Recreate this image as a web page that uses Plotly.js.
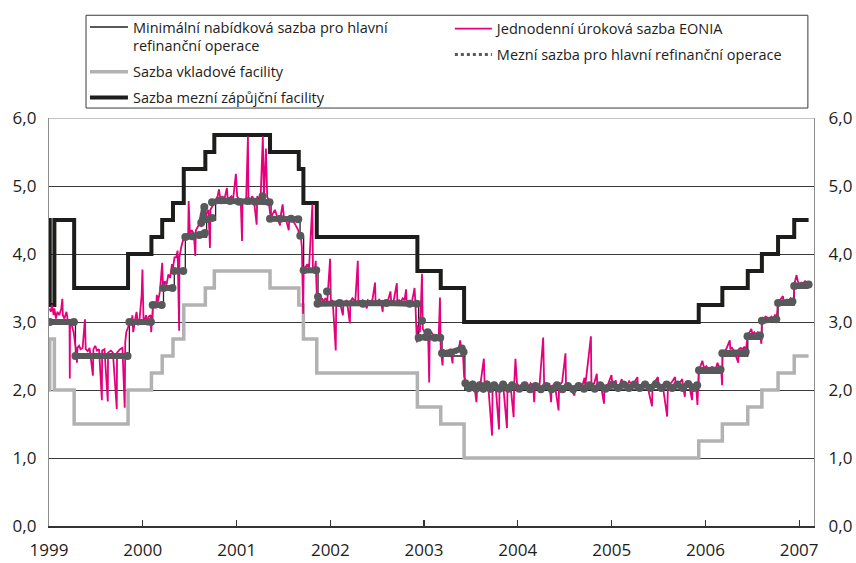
<!DOCTYPE html>
<html>
<head>
<meta charset="utf-8">
<script src="https://cdn.plot.ly/plotly-3.0.1.min.js"></script>
<style>html,body{margin:0;padding:0;background:#fff;}#chart{width:856px;height:563px;}</style>
</head>
<body>
<div id="chart"></div>
<script>
// Series names (legend labels)
const nameMinBid = "Minimální nabídková sazba pro hlavní<br>refinanční operace";
const nameDeposit = "Sazba vkladové facility";
const nameLending = "Sazba mezní zápůjční facility";
const nameEonia = "Jednodenní úroková sazba EONIA";
const nameMarginal = "Mezní sazba pro hlavní refinanční operace";

// Year ticks
const yearTicks = ["1999-01-01","2000-01-01","2001-01-01","2002-01-01","2003-01-01","2004-01-01","2005-01-01","2006-01-01","2007-01-01"];
const yearLabels = ["1999","2000","2001","2002","2003","2004","2005","2006","2007"];
const rateTicks = [0,1,2,3,4,5,6];

// Minimum bid rate for main refinancing operations (step changes)
const minBidDates = ["1999-01-01","1999-04-14","1999-11-10","2000-02-09","2000-03-22","2000-05-03","2000-06-15","2000-09-06","2000-10-11","2001-05-15","2001-09-05","2001-09-19","2001-11-14","2002-12-11","2003-03-12","2003-06-09","2005-12-06","2006-03-08","2006-06-15","2006-08-09","2006-10-11","2006-12-13","2007-02-07"];
const minBidValues = [3.0,2.5,3.0,3.25,3.5,3.75,4.25,4.5,4.75,4.5,4.25,3.75,3.25,2.75,2.5,2.0,2.25,2.5,2.75,3.0,3.25,3.5,3.5];

// Deposit facility rate
const depositDates = ["1999-01-01","1999-01-04","1999-01-22","1999-04-09","1999-11-05","2000-02-04","2000-03-17","2000-04-28","2000-06-09","2000-09-01","2000-10-06","2001-05-11","2001-08-31","2001-09-18","2001-11-09","2002-12-06","2003-03-07","2003-06-06","2005-12-06","2006-03-08","2006-06-15","2006-08-09","2006-10-11","2006-12-13","2007-02-07"];
const depositValues = [2.0,2.75,2.0,1.5,2.0,2.25,2.5,2.75,3.25,3.5,3.75,3.5,3.25,2.75,2.25,1.75,1.5,1.0,1.25,1.5,1.75,2.0,2.25,2.5,2.5];

// Marginal lending facility rate
const lendingDates = depositDates;
const lendingValues = [4.5,3.25,4.5,3.5,4.0,4.25,4.5,4.75,5.25,5.5,5.75,5.5,5.25,4.75,4.25,3.75,3.5,3.0,3.25,3.5,3.75,4.0,4.25,4.5,4.5];

// Marginal rate for main refinancing operations (segments separated by null)
const marginalDates = [
 "1999-01-04","1999-04-08",null,
 "1999-04-14","1999-11-03",null,
 "1999-11-10","2000-02-02",null,
 "2000-02-09","2000-03-15",null,
 "2000-03-22","2000-04-26",null,
 "2000-05-03","2000-06-07",null,
 "2000-06-15","2000-07-12","2000-08-09","2000-08-30",null,
 "2000-08-16","2000-08-28",null,
 "2000-09-04","2000-09-27",null,
 "2000-09-27","2000-11-01","2000-12-06","2001-01-10","2001-02-14","2001-03-14","2001-05-09",null,
 "2001-04-12",null,
 "2001-05-11","2001-06-20","2001-08-01","2001-08-29",null,
 "2001-09-06",null,
 "2001-09-19","2001-11-07",null,
 "2001-11-14",null,
 "2001-12-19",null,
 "2001-11-12","2002-02-06","2002-05-08","2002-08-07","2002-11-06","2002-12-04",null,
 "2002-12-24",null,
 "2002-12-11","2003-01-08","2003-02-12","2003-03-05",null,
 "2003-01-15",null,
 "2003-03-12","2003-04-16","2003-05-28","2003-06-04",null,
 "2003-06-11","2003-06-25","2003-07-09","2003-07-23","2003-08-06","2003-08-20","2003-09-03","2003-09-17","2003-10-01","2003-10-22",
 "2003-11-05","2003-11-26","2003-12-10","2004-01-07","2004-01-28","2004-02-18","2004-03-10","2004-03-31","2004-04-21","2004-05-12",
 "2004-06-02","2004-06-23","2004-07-14","2004-08-04","2004-08-25","2004-09-15","2004-10-06","2004-10-27","2004-11-17","2004-12-08",
 "2005-01-05","2005-01-26","2005-02-16","2005-03-09","2005-03-30","2005-04-20","2005-05-11","2005-06-01","2005-06-22","2005-07-13",
 "2005-08-03","2005-08-24","2005-09-14","2005-10-05","2005-10-26","2005-11-16","2005-11-30",null,
 "2005-12-07","2006-03-01",null,
 "2006-03-08","2006-06-07",null,
 "2006-06-14","2006-08-02",null,
 "2006-08-09","2006-10-04",null,
 "2006-10-11","2006-12-06",null,
 "2006-12-13","2007-02-07"
];
const marginalValues = [
 3.0,3.0,null,
 2.5,2.5,null,
 3.0,3.0,null,
 3.25,3.25,null,
 3.5,3.5,null,
 3.75,3.75,null,
 4.25,4.26,4.28,4.31,null,
 4.46,4.69,null,
 4.51,4.53,null,
 4.76,4.79,4.78,4.77,4.78,4.77,4.76,null,
 4.85,null,
 4.52,4.52,4.52,4.51,null,
 4.27,null,
 3.76,3.76,null,
 3.37,null,
 3.45,null,
 3.27,3.28,3.27,3.28,3.27,3.27,null,
 3.02,null,
 2.77,2.78,2.77,2.77,null,
 2.85,null,
 2.54,2.55,2.61,2.56,null,
 2.10,2.03,2.08,2.02,2.07,2.02,2.08,2.02,2.07,2.02,
 2.08,2.02,2.07,2.02,2.07,2.01,2.06,2.01,2.06,2.01,
 2.07,2.01,2.06,2.01,2.06,2.02,2.07,2.02,2.07,2.02,
 2.08,2.03,2.08,2.03,2.08,2.03,2.08,2.03,2.09,2.03,
 2.08,2.03,2.08,2.03,2.09,2.03,2.07,null,
 2.29,2.30,null,
 2.54,2.56,null,
 2.79,2.80,null,
 3.02,3.04,null,
 3.28,3.30,null,
 3.53,3.55
];

// EONIA overnight rate (date, %)
const eonia = [
 ["1999-01-04",3.20],["1999-01-08",3.15],["1999-01-13",3.25],["1999-01-19",3.10],["1999-01-22",3.20],["1999-01-28",3.05],
 ["1999-02-03",3.15],["1999-02-10",3.10],["1999-02-18",3.20],["1999-02-22",3.34],["1999-02-24",3.10],["1999-03-02",3.05],
 ["1999-03-10",3.15],["1999-03-16",3.00],["1999-03-22",2.95],["1999-03-23",2.17],["1999-03-24",3.00],["1999-03-31",2.95],
 ["1999-04-07",2.85],["1999-04-12",2.70],["1999-04-16",2.60],["1999-04-20",2.40],["1999-04-22",2.62],["1999-04-28",2.65],
 ["1999-05-04",2.60],["1999-05-12",2.62],["1999-05-21",3.04],["1999-05-24",2.60],["1999-06-01",2.57],["1999-06-08",2.62],
 ["1999-06-21",2.21],["1999-06-23",2.60],["1999-06-30",2.65],["1999-07-07",2.58],["1999-07-15",2.60],["1999-07-26",1.85],
 ["1999-07-27",2.58],["1999-08-05",2.60],["1999-08-18",1.83],["1999-08-19",2.55],["1999-08-30",2.58],["1999-09-07",2.55],
 ["1999-09-22",1.72],["1999-09-23",2.55],["1999-10-05",2.60],["1999-10-14",2.62],["1999-10-23",1.74],["1999-10-25",2.70],
 ["1999-10-29",2.85],["1999-11-03",2.90],["1999-11-08",2.95],["1999-11-12",3.05],["1999-11-17",2.95],["1999-11-22",3.10],
 ["1999-11-25",2.85],["1999-12-01",3.00],["1999-12-08",3.15],["1999-12-14",2.95],["1999-12-20",3.05],["1999-12-28",3.40],
 ["1999-12-31",3.77],
 ["2000-01-04",3.05],["2000-01-07",3.00],["2000-01-14",3.10],["2000-01-19",2.95],["2000-01-24",3.08],["2000-02-01",3.10],
 ["2000-02-03",2.85],["2000-02-10",3.25],["2000-02-16",3.30],["2000-02-22",3.20],["2000-02-25",3.40],["2000-03-01",3.30],
 ["2000-03-08",3.45],["2000-03-17",3.87],["2000-03-20",3.50],["2000-03-27",3.60],["2000-04-03",3.55],["2000-04-10",3.70],
 ["2000-04-17",3.65],["2000-04-24",3.85],["2000-04-28",3.80],["2000-05-04",3.95],["2000-05-10",3.95],["2000-05-16",4.05],
 ["2000-05-22",2.87],["2000-05-23",3.95],["2000-05-30",4.10],["2000-06-06",4.20],["2000-06-13",4.25],["2000-06-20",4.30],
 ["2000-06-26",4.25],["2000-06-28",4.78],["2000-07-03",4.30],["2000-07-10",4.35],["2000-07-18",4.30],["2000-07-24",3.97],
 ["2000-07-26",4.35],["2000-08-02",4.40],["2000-08-10",4.45],["2000-08-17",4.40],["2000-08-23",4.52],["2000-08-30",4.50],
 ["2000-09-06",4.60],["2000-09-13",4.65],["2000-09-19",4.09],["2000-09-21",4.65],["2000-09-28",4.70],["2000-10-05",4.75],
 ["2000-10-12",4.80],["2000-10-19",4.85],["2000-10-24",4.95],["2000-10-30",4.80],["2000-11-07",4.85],["2000-11-14",4.80],
 ["2000-11-24",4.97],["2000-11-27",4.82],["2000-12-04",4.82],["2000-12-11",4.85],["2000-12-18",4.80],["2000-12-29",5.18],
 ["2001-01-03",4.85],["2001-01-10",4.80],["2001-01-17",4.78],["2001-01-22",4.19],["2001-01-24",4.80],["2001-01-31",4.75],
 ["2001-02-07",4.80],["2001-02-14",5.73],["2001-02-16",4.80],["2001-02-23",4.78],["2001-03-02",4.85],["2001-03-09",4.80],
 ["2001-03-20",4.43],["2001-03-22",4.85],["2001-03-29",4.80],["2001-04-05",4.90],["2001-04-13",5.73],["2001-04-17",4.80],
 ["2001-04-25",5.55],["2001-04-30",4.85],["2001-05-07",4.75],["2001-05-11",4.60],["2001-05-16",4.55],["2001-05-23",4.60],
 ["2001-05-30",4.65],["2001-06-19",4.42],["2001-06-21",4.55],["2001-06-29",4.73],["2001-07-04",4.55],["2001-07-11",4.52],
 ["2001-07-23",4.35],["2001-07-25",4.55],["2001-08-01",4.50],["2001-08-08",4.48],["2001-08-15",4.45],["2001-08-22",4.40],
 ["2001-08-29",4.35],["2001-09-03",4.25],["2001-09-07",4.30],["2001-09-12",4.10],["2001-09-17",3.12],["2001-09-19",3.75],
 ["2001-09-26",3.80],["2001-10-03",3.85],["2001-10-10",3.80],["2001-10-23",4.73],["2001-10-25",3.80],["2001-11-01",3.75],
 ["2001-11-05",3.90],["2001-11-07",3.70],["2001-11-09",3.40],["2001-11-15",3.35],["2001-11-22",3.30],["2001-11-29",3.35],
 ["2001-12-06",3.30],["2001-12-13",3.35],["2001-12-20",3.30],["2001-12-31",3.93],
 ["2002-01-03",3.30],["2002-01-10",3.32],["2002-01-22",2.58],["2002-01-24",3.30],["2002-02-05",3.32],["2002-02-19",3.10],
 ["2002-02-21",3.28],["2002-03-06",3.32],["2002-03-18",2.98],["2002-03-20",3.30],["2002-03-28",3.35],["2002-04-08",3.30],
 ["2002-04-18",3.90],["2002-04-20",3.32],["2002-04-29",3.30],["2002-05-07",3.32],["2002-05-15",3.28],["2002-05-23",3.20],
 ["2002-05-27",3.32],["2002-06-05",3.30],["2002-06-14",3.33],["2002-06-24",3.58],["2002-06-26",3.32],["2002-07-03",3.30],
 ["2002-07-10",3.33],["2002-07-17",3.30],["2002-07-24",3.15],["2002-07-26",3.31],["2002-08-05",3.30],["2002-08-14",3.32],
 ["2002-08-23",3.45],["2002-08-26",3.30],["2002-09-05",3.32],["2002-09-17",3.57],["2002-09-19",3.30],["2002-09-26",3.32],
 ["2002-10-03",3.30],["2002-10-10",3.35],["2002-10-17",3.32],["2002-10-23",3.48],["2002-10-25",3.30],["2002-11-01",3.30],
 ["2002-11-08",3.28],["2002-11-15",3.30],["2002-11-25",3.50],["2002-11-28",3.30],["2002-12-04",2.70],["2002-12-06",2.95],
 ["2002-12-10",2.90],["2002-12-16",2.85],["2002-12-24",3.71],["2002-12-27",2.90],
 ["2003-01-03",2.85],["2003-01-10",2.85],["2003-01-17",2.80],["2003-01-21",2.11],["2003-01-23",2.82],["2003-01-30",2.85],
 ["2003-02-06",2.80],["2003-02-13",2.78],["2003-02-20",2.80],["2003-02-27",2.78],["2003-03-04",3.36],["2003-03-07",2.60],
 ["2003-03-14",2.36],["2003-03-17",2.60],["2003-03-24",2.55],["2003-03-31",2.58],["2003-04-07",2.55],["2003-04-14",2.60],
 ["2003-04-22",2.39],["2003-04-24",2.58],["2003-05-01",2.60],["2003-05-08",2.55],["2003-05-15",2.58],["2003-05-22",2.73],
 ["2003-05-26",2.55],["2003-06-02",2.50],["2003-06-06",2.20],["2003-06-09",2.15],["2003-06-16",2.12],["2003-06-23",2.10],
 ["2003-07-03",2.08],["2003-07-14",2.12],["2003-07-24",1.82],["2003-07-28",2.10],["2003-08-08",2.07],["2003-08-22",2.46],
 ["2003-08-25",2.08],["2003-09-08",2.06],["2003-09-23",1.33],["2003-09-25",2.05],["2003-10-06",2.10],["2003-10-20",1.42],
 ["2003-10-22",2.05],["2003-11-05",2.08],["2003-11-20",1.44],["2003-11-22",2.05],["2003-12-03",2.10],["2003-12-16",1.60],
 ["2003-12-18",2.07],["2003-12-23",2.46],["2003-12-29",2.10],
 ["2004-01-06",2.05],["2004-01-14",2.03],["2004-01-22",2.05],["2004-02-02",2.07],["2004-02-11",2.03],["2004-02-20",2.10],
 ["2004-03-01",2.06],["2004-03-05",1.82],["2004-03-08",2.05],["2004-03-17",2.03],["2004-03-26",2.08],["2004-04-09",2.77],
 ["2004-04-13",2.04],["2004-04-22",2.05],["2004-05-03",2.10],["2004-05-10",1.82],["2004-05-12",2.05],["2004-05-24",2.09],
 ["2004-06-08",1.70],["2004-06-10",2.06],["2004-06-22",2.12],["2004-07-05",2.54],["2004-07-07",2.06],["2004-07-20",2.04],
 ["2004-08-09",1.92],["2004-08-11",2.05],["2004-08-25",2.07],["2004-09-08",2.05],["2004-09-17",2.18],["2004-09-20",2.06],
 ["2004-10-12",2.79],["2004-10-14",2.07],["2004-10-25",2.10],["2004-11-04",2.24],["2004-11-06",2.06],["2004-11-19",2.09],
 ["2004-12-02",1.80],["2004-12-04",2.06],["2004-12-17",2.08],["2004-12-31",2.22],
 ["2005-01-04",2.07],["2005-01-17",2.14],["2005-01-19",2.08],["2005-02-01",2.07],["2005-02-09",2.16],["2005-02-15",2.06],
 ["2005-03-01",2.07],["2005-03-10",2.13],["2005-03-22",2.06],["2005-04-11",2.19],["2005-04-13",2.07],["2005-04-27",2.08],
 ["2005-05-10",2.12],["2005-05-20",2.06],["2005-06-07",1.76],["2005-06-09",2.07],["2005-06-30",2.19],["2005-07-02",2.07],
 ["2005-07-19",2.06],["2005-08-05",1.61],["2005-08-08",2.06],["2005-08-22",2.11],["2005-09-05",2.19],["2005-09-07",2.07],
 ["2005-09-20",2.09],["2005-10-03",2.16],["2005-10-05",2.07],["2005-10-13",1.90],["2005-10-15",2.06],["2005-10-28",2.10],
 ["2005-11-10",1.85],["2005-11-12",2.07],["2005-11-25",2.10],["2005-12-01",1.78],["2005-12-06",2.30],["2005-12-13",2.35],
 ["2005-12-20",2.43],["2005-12-27",2.32],
 ["2006-01-05",2.35],["2006-01-12",2.30],["2006-01-20",2.32],["2006-01-27",2.34],["2006-02-03",2.32],["2006-02-10",2.30],
 ["2006-02-17",2.40],["2006-02-24",2.33],["2006-03-03",2.33],["2006-03-07",2.07],["2006-03-09",2.55],["2006-03-16",2.58],
 ["2006-03-23",2.60],["2006-04-06",2.73],["2006-04-08",2.60],["2006-04-15",2.62],["2006-04-22",2.58],["2006-05-09",2.40],
 ["2006-05-11",2.60],["2006-05-18",2.62],["2006-05-25",2.60],["2006-06-01",2.63],["2006-06-08",2.60],["2006-06-15",2.80],
 ["2006-06-22",2.85],["2006-06-29",2.90],["2006-07-03",2.82],["2006-07-10",2.85],["2006-07-17",2.82],["2006-07-24",2.85],
 ["2006-08-01",2.83],["2006-08-07",2.68],["2006-08-09",3.05],["2006-08-16",3.05],["2006-08-23",3.08],["2006-09-01",3.06],
 ["2006-09-08",3.05],["2006-09-15",3.08],["2006-09-22",3.05],["2006-09-29",3.10],["2006-10-06",3.08],["2006-10-11",3.30],
 ["2006-10-18",3.32],["2006-10-30",3.38],["2006-11-01",3.32],["2006-11-08",3.30],["2006-11-15",3.33],["2006-11-22",3.32],
 ["2006-11-29",3.35],["2006-12-06",3.30],["2006-12-11",3.28],["2006-12-13",3.55],["2006-12-22",3.69],["2006-12-27",3.60],
 ["2007-01-03",3.55],["2007-01-10",3.58],["2007-01-17",3.57],["2007-01-24",3.60],["2007-01-31",3.58],["2007-02-07",3.57]
];

const magenta = "#e5007d";
const darkGray = "#58595b";
const lightGray = "#b2b2b2";
const black = "#1d1d1b";
const legendFont = {family: "'Open Sans', 'Noto Sans', sans-serif", size: 14.5, color: "#1d1d1b"};
const tickFont = {family: "'Open Sans', 'Noto Sans', sans-serif", size: 17, color: "#1d1d1b"};

const traces = [
  {x: depositDates, y: depositValues, name: nameDeposit, type: "scatter", mode: "lines",
   line: {color: lightGray, width: 3.5, shape: "hv"}, legend: "legend", legendgroup: "g2", legendrank: 2},
  {x: lendingDates, y: lendingValues, name: nameLending, type: "scatter", mode: "lines",
   line: {color: black, width: 4, shape: "hv"}, legend: "legend", legendgroup: "g3", legendrank: 3},
  {x: minBidDates, y: minBidValues, name: nameMinBid, type: "scatter", mode: "lines",
   line: {color: "#222222", width: 1.3, shape: "hv"}, legend: "legend", legendgroup: "g1", legendrank: 1},
  {x: eonia.map(d => d[0]), y: eonia.map(d => d[1]), name: nameEonia, type: "scatter", mode: "lines",
   line: {color: magenta, width: 1.8}, legend: "legend2", legendgroup: "h1", legendrank: 1},
  {x: marginalDates, y: marginalValues, name: nameMarginal, type: "scatter", mode: "lines+markers",
   line: {color: darkGray, width: 6}, marker: {color: darkGray, size: 8}, connectgaps: false,
   showlegend: false, legendgroup: "h2"},
  {x: marginalDates, y: marginalValues, name: nameMarginal, type: "scatter", mode: "lines",
   line: {color: darkGray, width: 3, dash: "dot"}, connectgaps: false,
   legend: "legend2", legendgroup: "h2", legendrank: 2},
  {x: [null], y: [null], yaxis: "y2", showlegend: false, hoverinfo: "skip", type: "scatter", mode: "lines"}
];

const yCommon = {range: [0, 6], tickvals: rateTicks, tickformat: ".1f", showgrid: true,
  gridcolor: "#3a3a3a", gridwidth: 1, zeroline: false, showline: true, linecolor: "#8c8c8c", linewidth: 1.2,
  ticks: "", tickfont: tickFont, fixedrange: true};

const layout = {
  width: 856, height: 563,
  margin: {l: 49, r: 42, t: 117, b: 37},
  paper_bgcolor: "#ffffff", plot_bgcolor: "#ffffff",
  separators: ", ",
  showlegend: true,
  xaxis: {type: "date", range: ["1999-01-01", "2007-02-28"], tickvals: yearTicks, ticktext: yearLabels,
    ticks: "inside", ticklen: 6, tickcolor: "#333333", tickwidth: 1.2, showline: true, linecolor: "#333333", linewidth: 1.5,
    showgrid: false, zeroline: false, tickfont: tickFont, ticklabelstandoff: 8},
  yaxis: Object.assign({}, yCommon, {side: "left", ticklabelstandoff: 8}),
  yaxis2: Object.assign({}, yCommon, {side: "right", overlaying: "y", showgrid: false, ticklabelstandoff: 10}),
  legend: {x: 0.047, y: 1.259, xanchor: "left", yanchor: "top", orientation: "v", bgcolor: "rgba(0,0,0,0)",
    borderwidth: 0, font: legendFont, traceorder: "grouped", tracegroupgap: 4, valign: "top", itemwidth: 38},
  legend2: {x: 0.524, y: 1.255, xanchor: "left", yanchor: "top", orientation: "v", bgcolor: "rgba(0,0,0,0)",
    borderwidth: 0, font: legendFont, traceorder: "grouped", tracegroupgap: 4, valign: "top", itemwidth: 37},
  shapes: [
    {type: "rect", xref: "paper", yref: "paper", x0: 0.0484, x1: 0.992, y0: 1.0244, y1: 1.2518,
     line: {color: "#3a3a3a", width: 1}, fillcolor: "rgba(0,0,0,0)", layer: "above"},
    {type: "line", xref: "paper", yref: "y", x0: 0, x1: 1, y0: 6, y1: 6,
     line: {color: "#8c8c8c", width: 1.2}, layer: "above"}
  ]
};

Plotly.newPlot("chart", traces, layout, {displayModeBar: false, staticPlot: true});
</script>
</body>
</html>
